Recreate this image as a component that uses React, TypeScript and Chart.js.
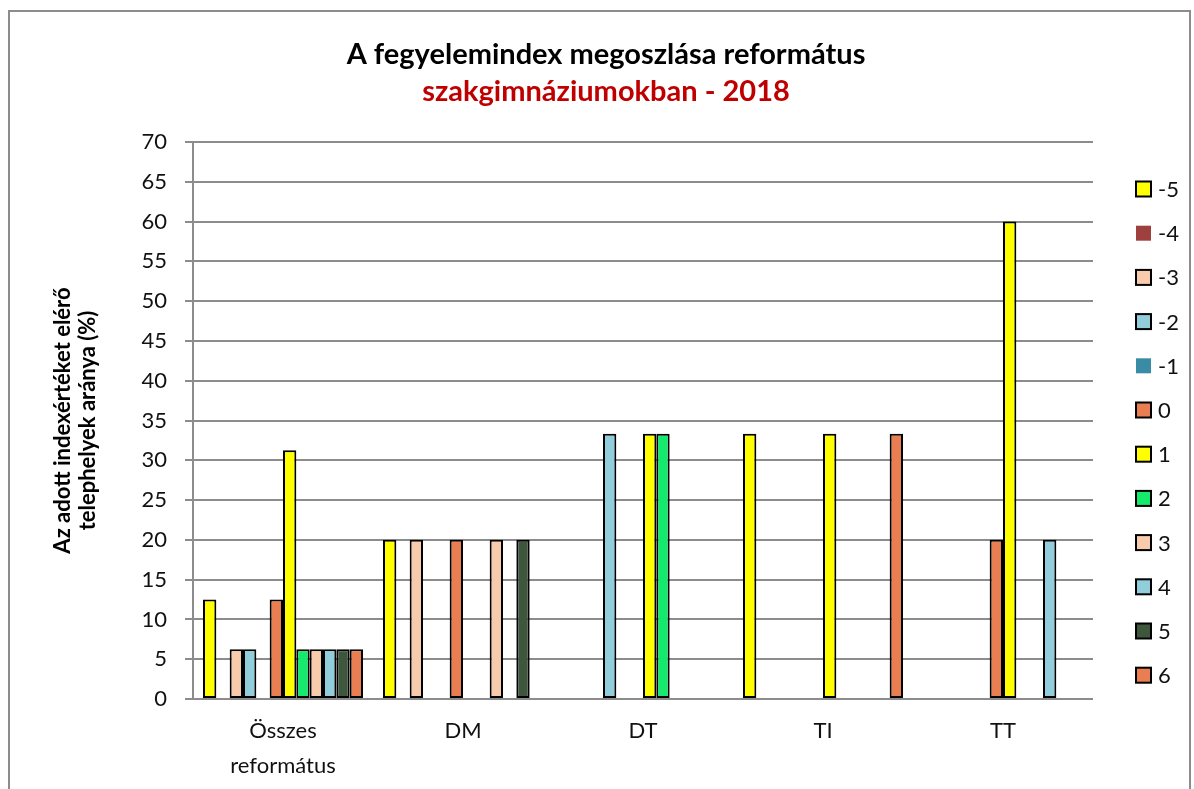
import React, { useEffect, useRef } from 'react';
import { Chart, registerables } from 'chart.js';

Chart.register(...registerables);

// Categories along the x axis
const categories: (string | string[])[] = [['Összes', 'református'], 'DM', 'DT', 'TI', 'TT'];

// Index values (series) shown in the legend
const seriesNames = ['-5', '-4', '-3', '-2', '-1', '0', '1', '2', '3', '4', '5', '6'];

// Share of sites reaching each index value (%), per category
const valuesM5 = [12.5, 20, null, 33.33, null];
const valuesM4 = [null, null, null, null, null];
const valuesM3 = [6.25, 20, null, null, null];
const valuesM2 = [6.25, null, 33.33, null, null];
const valuesM1 = [null, null, null, null, null];
const values0 = [12.5, 20, null, null, 20];
const values1 = [31.25, null, 33.33, 33.33, 60];
const values2 = [6.25, null, 33.33, null, null];
const values3 = [6.25, 20, null, null, null];
const values4 = [6.25, null, null, null, 20];
const values5 = [6.25, 20, null, null, null];
const values6 = [6.25, null, null, 33.33, null];

const seriesValues = [
  valuesM5, valuesM4, valuesM3, valuesM2, valuesM1, values0,
  values1, values2, values3, values4, values5, values6,
];

const seriesColors = [
  '#FFFF00', '#9E413E', '#F8CBAD', '#92CDDC', '#3A8CA5', '#E97E52',
  '#FFFF00', '#14EB6C', '#F8CBAD', '#92CDDC', '#3E563B', '#E97E52',
];

const titleLine1 = 'A fegyelemindex megoszlása református';
const titleLine2 = 'szakgimnáziumokban - 2018';

// Series without an outline (legend swatch drawn flat as well)
const unoutlined = new Set(['-4', '-1']);

const FONT = 'Lato, "Noto Sans", sans-serif';

const frameTitleLegend = {
  id: 'frameTitleLegend',
  beforeDraw(chart: Chart) {
    const { ctx, width, height } = chart;
    ctx.save();
    ctx.fillStyle = '#ffffff';
    ctx.fillRect(0, 0, width, height);
    ctx.strokeStyle = '#8c8c8c';
    ctx.lineWidth = 2;
    ctx.strokeRect(9, 11, 1181, 800);

    ctx.textAlign = 'center';
    ctx.textBaseline = 'middle';
    ctx.font = `bold 29px ${FONT}`;
    ctx.fillStyle = '#000000';
    ctx.fillText(titleLine1, 606, 55);
    ctx.fillStyle = '#C00000';
    ctx.fillText(titleLine2, 606, 92);
    ctx.restore();
  },
  afterDraw(chart: Chart) {
    const { ctx } = chart;
    ctx.save();
    ctx.font = `22px ${FONT}`;
    ctx.textBaseline = 'middle';
    ctx.textAlign = 'left';
    chart.data.datasets.forEach((ds: any, i: number) => {
      const cy = 189 + i * 44.2;
      const x = 1136;
      ctx.fillStyle = ds.backgroundColor;
      ctx.fillRect(x, cy - 7.5, 15, 15);
      if (!unoutlined.has(ds.label)) {
        ctx.strokeStyle = '#000';
        ctx.lineWidth = 2;
        ctx.strokeRect(x, cy - 7.5, 15, 15);
      }
      ctx.fillStyle = '#111111';
      ctx.fillText(ds.label, 1158, cy + 1);
    });
    ctx.restore();
  },
};

export default function App() {
  const canvasRef = useRef<HTMLCanvasElement | null>(null);

  useEffect(() => {
    if (!canvasRef.current) return;
    const chart = new Chart(canvasRef.current, {
      type: 'bar',
      data: {
        labels: categories,
        datasets: seriesNames.map((name, i) => ({
          label: name,
          data: seriesValues[i],
          backgroundColor: seriesColors[i],
          borderColor: '#000000',
          borderWidth: unoutlined.has(name) ? 0 : 2,
          borderSkipped: false,
          categoryPercentage: 160 / 180,
          barPercentage: 1,
        })),
      },
      options: {
        responsive: false,
        animation: false,
        layout: { padding: { left: 0, right: 101, top: 142, bottom: 0 } },
        plugins: {
          legend: { display: false },
          tooltip: { enabled: false },
          title: { display: false },
        },
        scales: {
          x: {
            grid: { display: false, drawTicks: false },
            border: { display: false },
            ticks: {
              color: '#111111',
              font: { family: FONT, size: 22, lineHeight: 1.6 },
              padding: 14.5,
              maxRotation: 0,
              autoSkip: false,
            },
            afterFit(scale: any) {
              scale.height = 90;
            },
          },
          y: {
            min: 0,
            max: 70,
            ticks: {
              stepSize: 5,
              color: '#111111',
              font: { family: FONT, size: 22 },
              padding: 18,
            },
            grid: { color: '#8c8c8c', lineWidth: 2, tickLength: 8 },
            border: { display: true, color: '#8c8c8c', width: 2 },
            title: {
              display: true,
              text: ['Az adott indexértéket elérő', 'telephelyek aránya (%)'],
              color: '#000000',
              font: { family: FONT, size: 22, weight: 'bold', lineHeight: 1.15 },
              padding: { top: 50.4, bottom: 0 },
            },
            afterFit(scale: any) {
              scale.width = 193;
            },
          },
        },
      },
      plugins: [frameTitleLegend],
    });
    return () => chart.destroy();
  }, []);

  return (
    <div style={{ position: 'absolute', left: 0, top: 0, width: 1194, height: 789 }}>
      <canvas ref={canvasRef} width={1194} height={789} style={{ display: 'block' }} />
    </div>
  );
}
